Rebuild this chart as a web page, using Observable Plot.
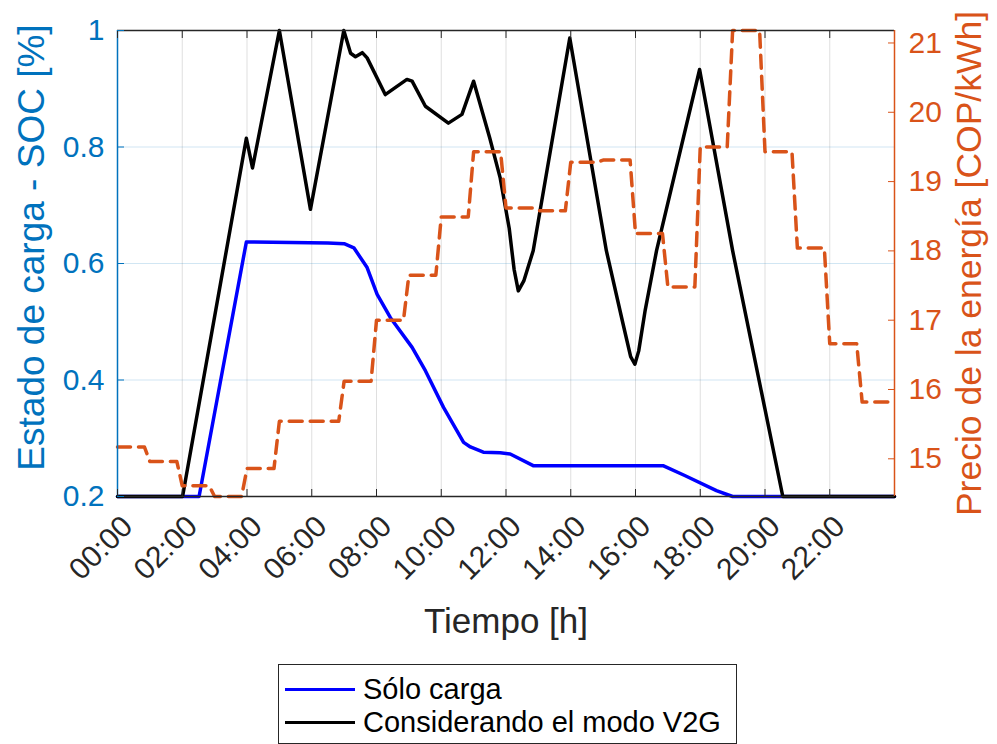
<!DOCTYPE html>
<html><head><meta charset="utf-8">
<script src="https://cdn.jsdelivr.net/npm/d3@7"></script>
<script src="https://cdn.jsdelivr.net/npm/@observablehq/plot@0.6"></script>
<style>
body{margin:0;background:#fff;font-family:"Liberation Sans",Arial,sans-serif;}
#wrap{position:relative;width:997px;height:744px;overflow:hidden;}
#legend{position:absolute;left:278px;top:664px;width:459px;height:80px;border:1.5px solid #262626;box-sizing:border-box;background:#fff;}
.row{position:absolute;left:0;height:34px;display:flex;align-items:center;}
.sw{width:70px;height:0;border-top:3.5px solid;margin-left:6px;margin-right:8px;}
.lbl{font-size:29px;color:#000;white-space:nowrap;}
</style></head><body>
<div id="wrap"><div id="chart"></div><div id="legend"></div></div>
<script>
// ---- data ----
const priceHours = d3.range(24);
const priceVals = [15.17,14.96,14.61,14.456,14.86,15.54,15.54,16.12,17.0,17.65,18.49,19.43,18.62,18.58,19.28,19.31,18.25,17.48,19.5,21.18,19.43,18.04,16.66,15.82];

const soloTime = [0,2.52,3.98,6.5,7.0,7.3,7.71,8.02,8.43,9.1,9.51,10.07,10.69,10.9,11.3,11.82,12.13,12.84,16.85,17.52,18.5,19.0,24];
const soloVals = [0.2,0.2,0.637,0.635,0.634,0.627,0.593,0.547,0.507,0.456,0.416,0.353,0.293,0.285,0.276,0.275,0.273,0.253,0.253,0.236,0.21,0.2,0.2];

const v2gTime = [0,2.01,3.98,4.17,5.0,5.96,6.99,7.2,7.35,7.56,7.71,8.27,8.94,9.1,9.51,10.22,10.64,11.0,11.5,11.82,12.1,12.25,12.38,12.55,12.84,13.97,15.1,15.6,15.85,15.98,16.1,16.3,16.65,17.98,19.0,20.55,24];
const v2gVals = [0.2,0.2,0.815,0.764,1.0,0.693,1.0,0.961,0.955,0.962,0.953,0.89,0.916,0.913,0.87,0.841,0.856,0.913,0.815,0.747,0.66,0.59,0.553,0.57,0.622,0.987,0.622,0.5,0.44,0.427,0.45,0.52,0.622,0.933,0.622,0.2,0.2];

const xTicks = d3.range(0, 24, 2);
const xTickLabels = ["00:00","02:00","04:00","06:00","08:00","10:00","12:00","14:00","16:00","18:00","20:00","22:00"];
const socTicks = [0.2,0.4,0.6,0.8,1];
const priceTicks = [15,16,17,18,19,20,21];
const priceDomain = [14.456, 21.18];
const seriesNames = ["Sólo carga","Considerando el modo V2G"];

// ---- build ----
const LEFT = "#0072BD", ORANGE = "#D95319", AX = "#262626";
const FONT = "'Liberation Sans', Arial, sans-serif";
const toSoc = p => 0.2 + (p - priceDomain[0]) / (priceDomain[1] - priceDomain[0]) * 0.8;
const fromSoc = s => priceDomain[0] + (s - 0.2) / 0.8 * (priceDomain[1] - priceDomain[0]);

const solo = soloTime.map((t,i)=>({t, s: soloVals[i]}));
const v2g = v2gTime.map((t,i)=>({t, s: v2gVals[i]}));
const priceLine = [];
priceHours.forEach((h,i)=>{
  priceLine.push({t:h, p:priceVals[i]});
  priceLine.push({t: i === priceHours.length-1 ? 24 : h + 5/6, p:priceVals[i]});
});

const chart = Plot.plot({
  width: 997, height: 655,
  marginLeft: 117, marginRight: 103, marginTop: 30, marginBottom: 159,
  x: {domain:[0,24], axis:null},
  y: {domain:[0.2,1], axis:null},
  style: {fontFamily: FONT, background:"#fff", overflow:"visible"},
  marks: [
    Plot.gridX(xTicks, {stroke: AX, strokeOpacity: 0.15, strokeWidth: 1}),
    Plot.gridY(socTicks, {stroke: LEFT, strokeOpacity: 0.18, strokeWidth: 1}),
    Plot.line(solo, {x:"t", y:"s", stroke:"#0000ff", strokeWidth:3.5}),
    Plot.line(v2g, {x:"t", y:"s", stroke:"#000", strokeWidth:3.5}),
    Plot.line(priceLine, {x:"t", y:d=>toSoc(d.p), stroke:ORANGE, strokeWidth:3.5, strokeDasharray:"13,8"}),
    Plot.ruleY([1], {stroke: AX, strokeWidth: 1.5}),
    Plot.ruleY([0.2], {stroke: AX, strokeWidth: 1.5}),
    Plot.ruleX([0], {stroke: LEFT, strokeWidth: 1.5}),
    Plot.ruleX([24], {stroke: ORANGE, strokeWidth: 1.5}),
    Plot.axisX(xTicks, {anchor:"bottom", label:null, tickSize:-7, tickFormat:()=>"", color: AX}),
    Plot.axisX(xTicks, {anchor:"top", label:null, tickSize:-7, tickFormat:()=>"", color: AX}),
    Plot.text(xTicks, {x:d=>d, frameAnchor:"bottom", text:(d,i)=>xTickLabels[i], rotate:-45,
      textAnchor:"end", lineAnchor:"middle", dx:10, dy:25, fontSize:30, fill:AX}),
    Plot.axisY(socTicks, {anchor:"left", label:null, tickSize:-7, tickPadding:20, color:LEFT, fontSize:30,
      tickFormat:d=> d === 1 ? "1" : d.toFixed(1)}),
    Plot.axisY(priceTicks.map(toSoc), {anchor:"right", label:null, tickSize:-7, tickPadding:21, color:ORANGE, fontSize:30,
      tickFormat:d=> String(Math.round(fromSoc(d)))}),
    Plot.text(["Tiempo [h]"], {frameAnchor:"bottom", textAnchor:"middle", lineAnchor:"middle", dy:125, fontSize:35, fill:AX}),
    Plot.text(["Estado de carga - SOC [%]"], {frameAnchor:"left", textAnchor:"middle", lineAnchor:"middle", rotate:-90, dx:-85, dy:-16, fontSize:37, fill:LEFT}),
    Plot.text(["Precio de la energía [COP/kWh]"], {frameAnchor:"right", textAnchor:"middle", lineAnchor:"middle", rotate:-90, dx:75, fontSize:35.5, fill:ORANGE})
  ]
});
document.getElementById("chart").appendChild(chart);

const legend = document.getElementById("legend");
const legendColors = ["#0000ff", "#000"];
seriesNames.forEach((name,i)=>{
  const row = document.createElement("div");
  row.className = "row";
  row.style.top = (7 + i*33) + "px";
  row.innerHTML = `<div class="sw" style="border-color:${legendColors[i]}"></div><span class="lbl">${name}</span>`;
  legend.appendChild(row);
});
</script>
</body></html>
